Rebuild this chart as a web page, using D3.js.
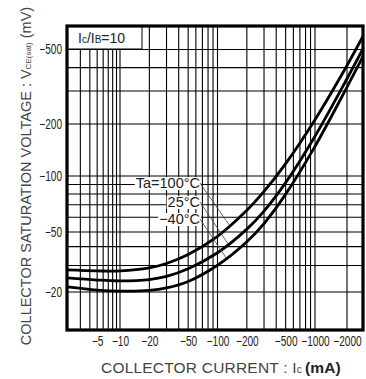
<!DOCTYPE html>
<html>
<head>
<meta charset="utf-8">
<script src="https://cdn.jsdelivr.net/npm/d3@7/dist/d3.min.js"></script>
<style>
  html, body { margin: 0; padding: 0; background: #fff; }
  svg { display: block; }
  text { font-family: "Liberation Sans", Arial, sans-serif; }
</style>
</head>
<body>
<svg id="chart" width="366" height="379"></svg>
<script>
// Collector current (mA) at which the curves are sampled
const currents = [-2, -5, -10, -20, -30, -50, -100, -200, -300, -500, -1000, -2000, -3000];
// Collector saturation voltage (mV) for each ambient temperature
const vce100 = [-28.0, -27.6, -27.6, -28.9, -30.9, -35.4, -46.8, -65.4, -82.6, -118, -211, -411, -626];
const vce25  = [-24.8, -24.0, -23.7, -24.2, -25.4, -28.5, -36.4, -51.8, -64.8, -92.1, -170, -349, -537];
const vceM40 = [-21.6, -20.6, -20.3, -20.5, -21.3, -23.5, -30.1, -43.1, -55.5, -79.9, -148.5, -315, -491];
const seriesLabels = ["Ta=100°C", "25°C", "−40°C"];
// current where each label's leader line meets its curve
const leaderCurrents = [-134, -129, -123];

const xTickValues = [-5, -10, -20, -50, -100, -200, -500, -1000, -2000];
const yTickValues = [-20, -50, -100, -200, -500];
const xGridValues = [-3, -4, -5, -6, -7, -8, -9, -10,
  -20, -30, -40, -50, -60, -70, -80, -90, -100,
  -200, -300, -400, -500, -600, -700, -800, -900, -1000, -2000];
const yGridValues = [-20, -30, -40, -50, -60, -70, -80, -90, -100, -200, -300, -400, -500];

const svg = d3.select("#chart");
const plot = { left: 67, right: 363, top: 26, bottom: 330 };

// log axes of the printed graph paper (decades are not drawn equally wide)
const x = d3.scaleLog()
  .domain([-2, -10, -100, -1000, -2000])
  .range([plot.left, 120, 217.5, 315, 347]);
const y = d3.scaleLog()
  .domain([-20, -50, -100, -200, -500])
  .range([292, 232, 176, 124, 49.5]);

// grid
const grid = svg.append("g").attr("stroke", "#000").attr("stroke-width", 1.1);
grid.selectAll("line.v").data(xGridValues).join("line")
  .attr("class", "v")
  .attr("x1", d => x(d)).attr("x2", d => x(d))
  .attr("y1", plot.top).attr("y2", plot.bottom);
grid.selectAll("line.h").data(yGridValues).join("line")
  .attr("class", "h")
  .attr("x1", plot.left).attr("x2", plot.right)
  .attr("y1", d => y(d)).attr("y2", d => y(d));

// curves
svg.append("clipPath").attr("id", "clip").append("rect")
  .attr("x", plot.left).attr("y", plot.top)
  .attr("width", plot.right - plot.left).attr("height", plot.bottom - plot.top);

const series = [vce100, vce25, vceM40];
const line = d3.line()
  .x(d => x(d[0])).y(d => y(d[1]))
  .curve(d3.curveCatmullRom.alpha(0.5));
svg.append("g").attr("clip-path", "url(#clip)")
  .selectAll("path").data(series).join("path")
  .attr("d", s => line(currents.map((c, i) => [c, s[i]])))
  .attr("fill", "none").attr("stroke", "#000").attr("stroke-width", 2.8);

// value on a curve between sampled currents (log-log)
function valueAt(s, c) {
  const lx = currents.map(v => Math.log10(-v));
  const ly = s.map(v => Math.log10(-v));
  const t = Math.log10(-c);
  let i = d3.bisectLeft(lx, t);
  i = Math.max(1, Math.min(lx.length - 1, i));
  const f = (t - lx[i - 1]) / (lx[i] - lx[i - 1]);
  return -Math.pow(10, ly[i - 1] + f * (ly[i] - ly[i - 1]));
}

// temperature labels with leader lines
const labelBase = [188, 207, 224];
const labels = svg.append("g");
seriesLabels.forEach((txt, i) => {
  const g = labels.append("g");
  const t = g.append("text")
    .attr("x", 200).attr("y", labelBase[i])
    .attr("text-anchor", "end")
    .attr("font-size", 14.5).attr("fill", "#222")
    .text(txt);
  const bb = t.node().getBBox();
  g.insert("rect", "text")
    .attr("x", bb.x - 1).attr("y", bb.y + 2)
    .attr("width", bb.width + 2).attr("height", bb.height - 3)
    .attr("fill", "#fff");
  const c = leaderCurrents[i];
  g.append("line")
    .attr("x1", 200).attr("y1", labelBase[i] - 5)
    .attr("x2", x(c)).attr("y2", y(valueAt(series[i], c)))
    .attr("stroke", "#444").attr("stroke-width", 0.8);
});

// Ic/IB legend box
const legend = svg.append("g");
legend.append("rect")
  .attr("x", plot.left).attr("y", plot.top)
  .attr("width", 75).attr("height", 23)
  .attr("fill", "#fff").attr("stroke", "#000").attr("stroke-width", 1);
const lt = legend.append("text")
  .attr("x", 78).attr("y", 43)
  .attr("font-size", 14).attr("fill", "#222");
lt.append("tspan").text("I");
lt.append("tspan").attr("font-size", 10).text("c");
lt.append("tspan").text("/I");
lt.append("tspan").attr("font-size", 10).text("B");
lt.append("tspan").text("=10");

// frame
svg.append("rect")
  .attr("x", plot.left).attr("y", plot.top)
  .attr("width", plot.right - plot.left).attr("height", plot.bottom - plot.top)
  .attr("fill", "none").attr("stroke", "#000").attr("stroke-width", 3.2);

// axes (labels only; the frame and grid carry the lines)
const fmt = d3.format("d");
const squeeze = 0.72;
const yAxis = svg.append("g")
  .attr("transform", `translate(${plot.left},0)`)
  .call(d3.axisLeft(y).tickValues(yTickValues).tickFormat(fmt).tickSize(0));
yAxis.select(".domain").remove();
yAxis.selectAll("text")
  .attr("x", -5 / squeeze)
  .attr("transform", `scale(${squeeze},1)`)
  .attr("font-size", 14).attr("fill", "#222")
  .attr("font-family", "Liberation Sans, Arial, sans-serif");

const xAxis = svg.append("g")
  .attr("transform", `translate(0,${plot.bottom})`)
  .call(d3.axisBottom(x).tickValues(xTickValues).tickFormat(fmt).tickSize(0).tickPadding(6));
xAxis.select(".domain").remove();
xAxis.selectAll("text")
  .attr("transform", `scale(${squeeze},1)`)
  .attr("x", 0)
  .attr("font-size", 14).attr("fill", "#222")
  .attr("font-family", "Liberation Sans, Arial, sans-serif");

// axis titles
const xt = svg.append("text")
  .attr("x", 221).attr("y", 373)
  .attr("text-anchor", "middle")
  .attr("font-size", 15.5).attr("letter-spacing", 0.2).attr("fill", "#444");
xt.append("tspan").text("COLLECTOR  CURRENT : I");
xt.append("tspan").attr("font-size", 10).text("c ");
xt.append("tspan").attr("font-weight", "bold").attr("fill", "#222").text("(mA)");

const yt = svg.append("text")
  .attr("transform", "translate(31,176) rotate(-90)")
  .attr("text-anchor", "middle")
  .attr("font-size", 14.5).attr("fill", "#444");
yt.append("tspan").text("COLLECTOR  SATURATION  VOLTAGE : V");
yt.append("tspan").attr("font-size", 8).text("CE(sat)");
yt.append("tspan").text(" (mV)");
</script>
</body>
</html>
